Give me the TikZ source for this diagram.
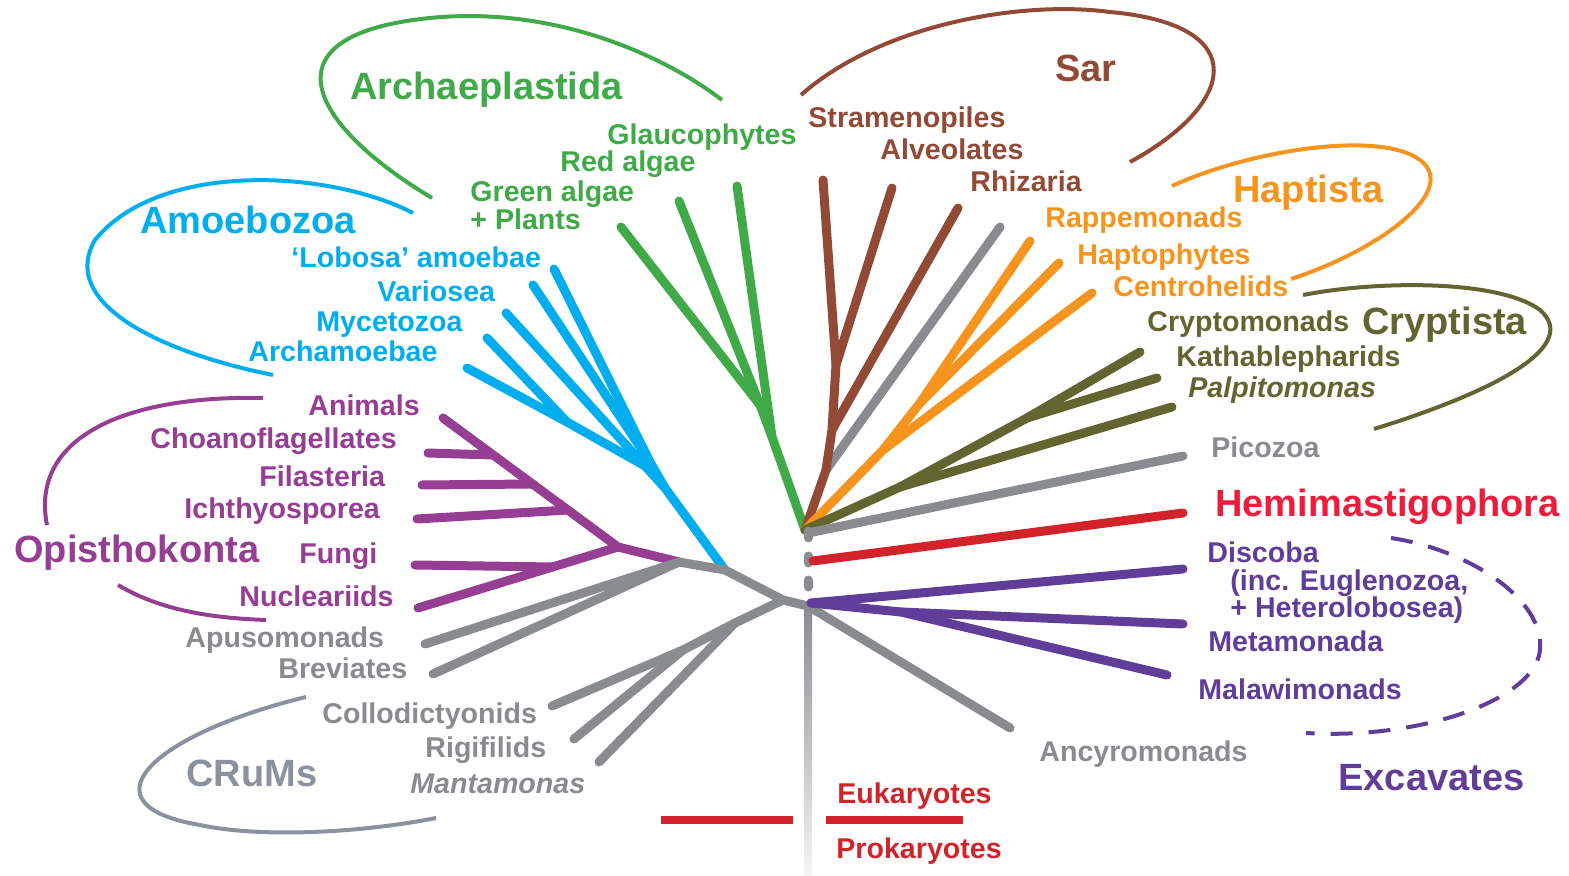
\documentclass[tikz,border=0pt]{standalone}
\usepackage{fontspec}
\setmainfont{Liberation Sans}
\definecolor{archgreen}{RGB}{64,170,73}
\definecolor{amoeblue}{RGB}{0,174,239}
\definecolor{opipurple}{RGB}{150,61,148}
\definecolor{treegray}{RGB}{138,139,143}
\definecolor{crumgray}{RGB}{139,145,158}
\definecolor{sarbrown}{RGB}{146,74,54}
\definecolor{haporange}{RGB}{247,148,29}
\definecolor{cryolive}{RGB}{98,101,48}
\definecolor{hemired}{RGB}{237,28,60}
\definecolor{barred}{RGB}{210,35,42}
\definecolor{excpurple}{RGB}{96,61,152}
\begin{document}
\begin{tikzpicture}[x=0.5pt, y=-0.5pt,
  branch/.style={line width=4.5pt, line cap=round, line join=round},
  loop/.style={line width=2pt},
  big/.style={font=\fontsize{19}{22}\selectfont\bfseries, inner sep=0pt, anchor=base west},
  small/.style={font=\fontsize{14.3}{12.5}\selectfont\bfseries, inner sep=0pt, anchor=base west}]
\useasboundingbox (0,0) rectangle (1569,876);

% root of the tree
\shade[top color=treegray, middle color=treegray!75, bottom color=treegray!8] (804,606) rectangle (812,876);
\coordinate (hub) at (805,530);

% Archaeplastida
\coordinate (gA) at (772,437);
\coordinate (gB) at (760,405);
\coordinate (glau) at (737,186);
\coordinate (reda) at (679,201);
\coordinate (gral) at (621,227);
\draw[branch, archgreen] (hub) -- (gA) -- (glau);
\draw[branch, archgreen] (gA) -- (gB) -- (reda);
\draw[branch, archgreen] (gB) -- (gral);

% Sar
\coordinate (sA) at (826,470);
\coordinate (sB) at (832,430);
\coordinate (sC) at (836,365);
\coordinate (stra) at (823,180);
\coordinate (alve) at (892,188);
\coordinate (rhiz) at (958,208);
\coordinate (telo) at (1000,227);
\draw[branch, treegray] (sA) -- (telo);
\draw[branch, sarbrown] (hub) -- (sA) -- (sB) -- (sC) -- (stra);
\draw[branch, sarbrown] (sC) -- (alve);
\draw[branch, sarbrown] (sB) -- (rhiz);

% Haptista
\coordinate (hA) at (883,450);
\coordinate (hB) at (920,403);
\coordinate (rapp) at (1030,241);
\coordinate (hapt) at (1059,263);
\coordinate (cent) at (1092,293);
\draw[branch, haporange] (hub) -- (hA) -- (hB) -- (rapp);
\draw[branch, haporange] (hB) -- (hapt);
\draw[branch, haporange] (hA) -- (cent);

% Cryptista
\coordinate (cA) at (900,487);
\coordinate (cB) at (1027,418);
\coordinate (cryp) at (1140,352);
\coordinate (kath) at (1157,378);
\coordinate (palp) at (1172,407);
\draw[branch, cryolive] (hub) -- (cA) -- (cB) -- (cryp);
\draw[branch, cryolive] (cB) -- (kath);
\draw[branch, cryolive] (cA) -- (palp);

% Picozoa, Hemimastigophora
\coordinate (pico) at (1183,456);
\coordinate (hemA) at (813,561);
\coordinate (hemi) at (1183,513);
\draw[branch, treegray] (808,533) -- (pico);
\draw[branch, treegray] (808,531) -- (808,538);
\draw[branch, treegray] (808,556) -- (808,563);
\draw[branch, treegray] (808,580) -- (808,587);
\draw[branch, barred] (hemA) -- (hemi);

% Amoebozoa
\coordinate (aR) at (665,488);
\coordinate (aA) at (650,462);
\coordinate (aB) at (645,466);
\coordinate (aC) at (567,422);
\coordinate (lobo) at (554,269);
\coordinate (vari) at (533,285);
\coordinate (myce) at (506,313);
\coordinate (amoe) at (487,338);
\coordinate (arch) at (467,368);
\coordinate (gB2) at (725,570);
\draw[branch, amoeblue] (gB2) -- (aR) -- (aA) -- (lobo);
\draw[branch, amoeblue] (aA) -- (vari);
\draw[branch, amoeblue] (aR) -- (aB) -- (myce);
\draw[branch, amoeblue] (aB) -- (aC) -- (arch);
\draw[branch, amoeblue] (aC) -- (amoe);

% Opisthokonta
\coordinate (oR) at (618,547);
\coordinate (oC) at (493,455);
\coordinate (oF) at (533,484);
\coordinate (oI) at (568,510);
\coordinate (oN) at (553,567);
\coordinate (anim) at (443,418);
\coordinate (choa) at (428,453);
\coordinate (fila) at (422,485);
\coordinate (ichy) at (417,519);
\coordinate (fung) at (415,565);
\coordinate (nucl) at (418,608);
\coordinate (gA2) at (679,562);
\draw[branch, opipurple] (gA2) -- (oR) -- (anim);
\draw[branch, opipurple] (oC) -- (choa);
\draw[branch, opipurple] (oF) -- (fila);
\draw[branch, opipurple] (oI) -- (ichy);
\draw[branch, opipurple] (oR) -- (nucl);
\draw[branch, opipurple] (oN) -- (fung);

% gray backbone, CRuMs
\coordinate (gX) at (783,600);
\coordinate (gR) at (808,606);
\coordinate (gY) at (735,623);
\coordinate (gZ) at (683,650);
\coordinate (apus) at (425,644);
\coordinate (brev) at (433,674);
\coordinate (ancy) at (1010,728);
\coordinate (coll) at (552,706);
\coordinate (rigi) at (574,739);
\coordinate (mant) at (599,762);
\draw[branch, treegray] (apus) -- (gA2);
\draw[branch, treegray] (brev) -- (gA2) -- (gB2) -- (gX) -- (gR) -- (ancy);
\draw[branch, treegray] (gX) -- (gY) -- (gZ) -- (coll);
\draw[branch, treegray] (gZ) -- (rigi);
\draw[branch, treegray] (gY) -- (mant);

% Excavates
\coordinate (eA) at (811,603);
\coordinate (eB) at (901,612);
\coordinate (disc) at (1183,569);
\coordinate (meta) at (1183,624);
\coordinate (mala) at (1167,675);
\draw[branch, excpurple] (eA) -- (disc);
\draw[branch, excpurple] (eA) -- (eB) -- (meta);
\draw[branch, excpurple] (eB) -- (mala);

% Eukaryotes / Prokaryotes bars
\fill[barred] (661,816) rectangle (793,824);
\fill[barred] (826,816) rectangle (963,824);

% group outlines
\draw[loop, archgreen] (432,198) .. controls (310,125) and (260,35) .. (430,18) .. controls (560,5) and (670,60) .. (722,100);
\draw[loop, amoeblue] (413,213) .. controls (330,170) and (160,160) .. (95,240) .. controls (60,300) and (150,350) .. (273,375);
\draw[loop, opipurple] (263,398) .. controls (120,395) and (30,440) .. (47,525);
\draw[loop, opipurple] (118,585) .. controls (160,610) and (210,618) .. (266,620);
\draw[loop, crumgray] (306,697) .. controls (150,735) and (80,805) .. (200,825) .. controls (260,838) and (360,833) .. (436,818);
\draw[loop, sarbrown] (801,95) .. controls (880,25) and (1020,0) .. (1110,12) .. controls (1255,25) and (1235,105) .. (1130,162);
\draw[loop, haporange] (1172,186) .. controls (1250,150) and (1380,130) .. (1420,160) .. controls (1460,190) and (1380,250) .. (1291,279);
\draw[loop, cryolive] (1303,295) .. controls (1380,280) and (1500,280) .. (1540,310) .. controls (1580,345) and (1500,390) .. (1374,429);
\draw[loop, excpurple, dash pattern=on 11pt off 8pt] (1391,538) .. controls (1470,550) and (1545,600) .. (1540,650) .. controls (1535,700) and (1420,740) .. (1306,733);

% group names
\node[big, archgreen] (archlab) at (350,100) {Archaeplastida};
\node[big, amoeblue] (amoelab) at (140,234) {Amoebozoa};
\node[big, opipurple] (opislab) at (14,563) {Opisthokonta};
\node[big, crumgray] (crumlab) at (186,786) {CRuMs};
\node[big, sarbrown] (sarlab) at (1055,82) {Sar};
\node[big, haporange] (haptlab) at (1233,203) {Haptista};
\node[big, cryolive] (crytlab) at (1362,335) {Cryptista};
\node[big, hemired] (hemilab) at (1215,517) {Hemimastigophora};
\node[big, excpurple] (excalab) at (1338,790) {Excavates};

% tip labels
\node[small, archgreen] (glaulab) at (607,145) {Glaucophytes};
\node[small, archgreen] (redalab) at (560,172) {Red algae};
\node[small, archgreen] (grallab) at (470,201.5) {Green algae};
\node[small, archgreen] (plantlab) at (470,229.5) {+ Plants};
\node[small, amoeblue] (lobolab) at (291,268) {‘Lobosa’ amoebae};
\node[small, amoeblue] (varilab) at (377,302) {Variosea};
\node[small, amoeblue] (mycelab) at (316,332) {Mycetozoa};
\node[small, amoeblue] (archmlab) at (248,362) {Archamoebae};
\node[small, opipurple] (animlab) at (308,416) {Animals};
\node[small, opipurple] (choalab) at (150,449) {Choanoflagellates};
\node[small, opipurple] (filalab) at (259,487) {Filasteria};
\node[small, opipurple] (ichylab) at (184,519) {Ichthyosporea};
\node[small, opipurple] (funglab) at (299,564) {Fungi};
\node[small, opipurple] (nucllab) at (239,607) {Nucleariids};
\node[small, treegray] (apuslab) at (185,647) {Apusomonads};
\node[small, treegray] (brevlab) at (278,678) {Breviates};
\node[small, treegray] (colllab) at (322,723) {Collodictyonids};
\node[small, treegray] (rigilab) at (425,757) {Rigifilids};
\node[small, treegray, font=\fontsize{14.3}{12.5}\selectfont\bfseries\itshape] (mantlab) at (410,793) {Mantamonas};
\node[small, sarbrown] (stralab) at (808,128) {Stramenopiles};
\node[small, sarbrown] (alvelab) at (880,160) {Alveolates};
\node[small, sarbrown] (rhizlab) at (970,192) {Rhizaria};
\node[small, haporange] (rapplab) at (1045,228) {Rappemonads};
\node[small, haporange] (haptplab) at (1077,265) {Haptophytes};
\node[small, haporange] (centlab) at (1113,297) {Centrohelids};
\node[small, cryolive] (cryplab) at (1147,332) {Cryptomonads};
\node[small, cryolive] (kathlab) at (1176,367) {Kathablepharids};
\node[small, cryolive, font=\fontsize{14.3}{12.5}\selectfont\bfseries\itshape] (palplab) at (1188,398) {Palpitomonas};
\node[small, treegray] (picolab) at (1211,458) {Picozoa};
\node[small, excpurple] (disclab) at (1207,563) {Discoba};
\node[small, excpurple] (incalab) at (1230,590.5) {(inc. Euglenozoa,};
\node[small, excpurple] (inchlab) at (1230,617.5) {+ Heterolobosea)};
\node[small, excpurple] (metalab) at (1208,652) {Metamonada};
\node[small, excpurple] (malalab) at (1198,699) {Malawimonads};
\node[small, treegray] (ancylab) at (1039,761) {Ancyromonads};
\node[small, barred] (eukalab) at (837,803) {Eukaryotes};
\node[small, barred] (prokalab) at (836,858) {Prokaryotes};
\end{tikzpicture}
\end{document}
